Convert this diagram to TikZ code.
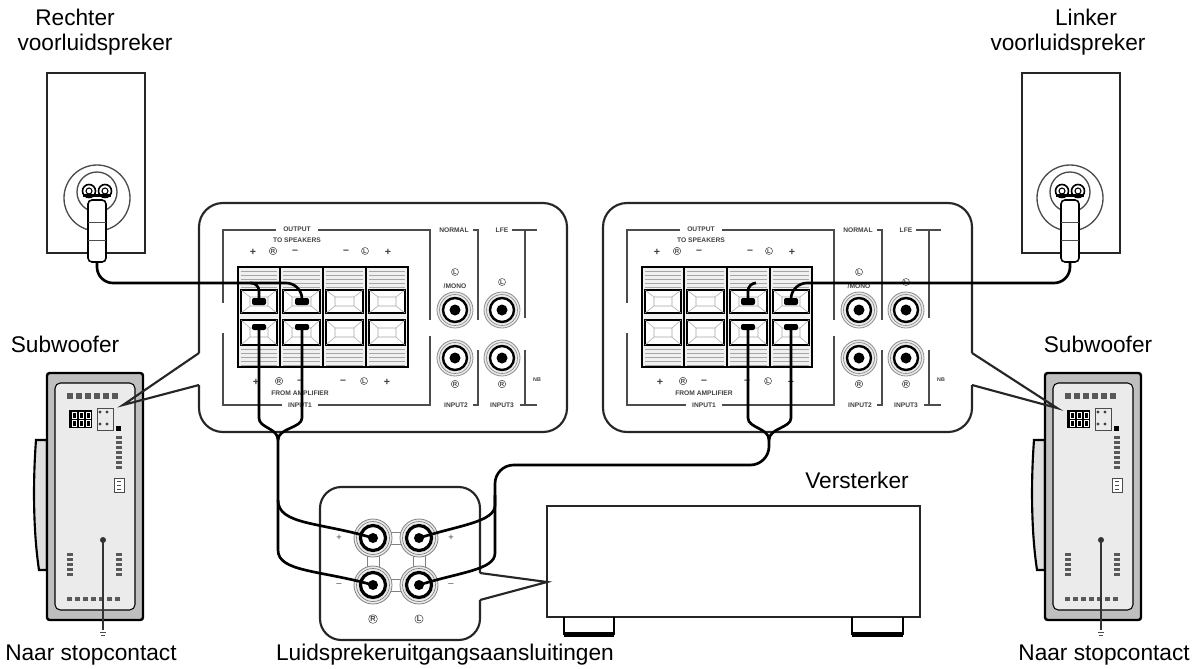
\documentclass[tikz,border=0pt]{standalone}
\usepackage{fontspec}
\setmainfont{Liberation Sans}
\begin{document}
\begin{tikzpicture}[x=0.75pt,y=-0.75pt,
  line/.style={line width=1.6pt,black!85},
  thin/.style={line width=0.6pt,black!70},
  frame/.style={line width=1.4pt,black!70},
  cable/.style={line width=2pt,black},
  lab/.style={font=\fontsize{17}{17}\selectfont,inner sep=0pt},
  tiny/.style={font=\fontsize{5}{5}\selectfont\bfseries,text=black!75,inner sep=0.5pt},
  sym/.style={font=\fontsize{8}{8}\selectfont\bfseries,text=black!75,inner sep=0pt},
  circ/.style={circle,draw=black!70,line width=0.4pt,inner sep=0.4pt,font=\fontsize{4.5}{4.5}\selectfont\bfseries,text=black!75},
  plug/.style={fill=black,rounded corners=1.5pt}]
\useasboundingbox (0,0) rectangle (1193,668);

% ---------- labels ----------
\node[lab] (t1) at (75,17) {Rechter};
\node[lab] (t2) at (95,45) {voorluidspreker};
\node[lab] (t3) at (1086,17) {Linker};
\node[lab] (t4) at (1068,45) {voorluidspreker};
\node[lab] (t5) at (65,344) {Subwoofer};
\node[lab] (t6) at (1098,344) {Subwoofer};
\node[lab,anchor=west] (t7) at (5,655) {Naar stopcontact};
\node[lab,anchor=east] (t8) at (1190,655) {Naar stopcontact};
\node[lab] (t9) at (445,655) {Luidsprekeruitgangsaansluitingen};
\node[lab] (t10) at (857,480) {Versterker};

% ---------- speakers ----------
\foreach \sx/\cx in {47/97,1022/1070}{
  \draw[line] (\sx,73) rectangle (\sx+98,253);
  \draw[thin,line width=1pt] (\cx,198) circle (33);
  \draw[thin,line width=1pt] (\cx,192) circle (20);
  \draw[black,fill=white,rounded corners=3pt,line width=1.2pt] (\cx-9,200) rectangle (\cx+9,262);
  \draw[thin] (\cx-9,222) -- (\cx+9,222) (\cx-9,240)--(\cx+9,240);
  \draw[line width=1.2pt,fill=white] (\cx-8,191) circle (6.5) (\cx+8,191) circle (6.5);
  \draw[line width=0.8pt] (\cx-8,191) circle (3) (\cx+8,191) circle (3);
  \fill (\cx-14,194) rectangle (\cx+14,197);
}

% ---------- subwoofers ----------
\foreach \bx in {47,1045}{
 \begin{scope}[shift={(\bx,0)}]
  \draw[line width=1.6pt,fill=black!12] (-11,440) .. controls (-14,480) and (-14,530) .. (-8,570) -- (0,570) -- (0,440) -- cycle;
  \draw[line width=1.8pt,fill=black!25,rounded corners=2pt] (0,373) rectangle (96,620);
  \draw[line width=0.8pt,fill=black!8,rounded corners=4pt] (8,383) rectangle (88,610);
  \foreach \i in {0,...,5} \fill[black!65] (20+\i*9,393) rectangle (26+\i*9,399);
  \foreach \i in {0,...,6} \fill[black!65] (20+\i*8,597) rectangle (25+\i*8,601);
  \fill[black] (22,410) rectangle (45,428);
  \foreach \i in {0,1,2} \draw[white,line width=0.5pt] (25+\i*7,412) rectangle (29+\i*7,418) (25+\i*7,420) rectangle (29+\i*7,426);
  \draw[thin] (50,408) rectangle (66,430);
  \fill[black!75] (53,412) circle (1.6) (60,412) circle (1.6) (53,424) circle (1.6) (60,424) circle (1.6);
  \fill[black] (69,426) rectangle (74,431);
  \foreach \i in {0,...,6} \fill[black!65] (69,436+\i*5) rectangle (75,439+\i*5);
  \draw[thin,fill=white] (67,478) rectangle (77,492);
  \draw[thin] (70,481) -- (74,481) (70,485)--(74,485) (70,489)--(74,489);
  \foreach \i in {0,...,4}{ \fill[black!65] (20,553+\i*5) rectangle (26,556+\i*5); \fill[black!65] (69,553+\i*5) rectangle (75,556+\i*5);}
  \fill[black!80] (56,540) circle (3);
  \draw[line width=1.6pt,black!80] (56,540) -- (56,630);
  \draw[thin] (53,632) -- (59,632) (54,635)--(58,635);
 \end{scope}
}

% ---------- panels ----------
\draw[line,rounded corners=18pt] (199,353) -- (199,203) -- (567,203) -- (567,432) -- (199,432) -- (199,385);
\draw[line] (199,353) -- (123,405) -- (199,385);
\draw[line,rounded corners=18pt] (972,385) -- (972,432) -- (603,432) -- (603,203) -- (972,203) -- (972,353);
\draw[line] (972,353) -- (1057,408) -- (972,385);

\foreach \o in {0,404}{
 \begin{scope}[shift={(\o,0)}]
  \draw[frame] (223,303) -- (223,230) -- (276,230);
  \draw[frame] (318,230) -- (430,230) -- (430,320);
  \draw[frame] (223,333) -- (223,405) -- (282,405);
  \draw[frame] (318,405) -- (430,405) -- (430,336);
  \node[tiny] at (297,229) {OUTPUT};
  \node[tiny] at (297,240) {TO SPEAKERS};
  \node[tiny] at (300,393) {FROM AMPLIFIER};
  \node[tiny] at (300,405) {INPUT1};
  \node[tiny] at (454,230) {NORMAL};
  \draw[frame] (473,230) -- (478,230) -- (478,320);
  \draw[frame] (478,350) -- (478,405) -- (473,405);
  \node[tiny] at (502,230) {LFE};
  \draw[frame] (512,230) -- (537,230);
  \draw[frame] (525,230) -- (525,318);
  \node[tiny] at (456,405) {INPUT2};
  \node[tiny] at (502,405) {INPUT3};
  \draw[frame] (520,405) -- (537,405);
  \draw[frame] (525,350) -- (525,405);
  \node[tiny,font=\fontsize{4}{4}\selectfont\bfseries] at (537,380) {NB};
  \node[sym] at (253,252) {+}; \node[circ] at (273,251) {R}; \node[sym] at (295,252) {–};
  \node[sym] at (346,252) {–}; \node[circ] at (365,251) {L}; \node[sym] at (388,252) {+};
  \node[sym] at (256,382) {+}; \node[circ] at (279,381) {R}; \node[sym] at (300,382) {–};
  \node[sym] at (343,382) {–}; \node[circ] at (364,381) {L}; \node[sym] at (387,382) {+};
  \draw[line width=1pt,fill=black!6] (238,267) rectangle (408,367);
  \foreach \a/\b in {238/280,280/323,323/366,366/408}{
    \foreach \k in {0,...,4}{ \draw[black!35,line width=0.5pt] (\a+3,271+\k*4) -- (\b-3,271+\k*4);
                             \draw[black!35,line width=0.5pt] (\a+3,349+\k*4) -- (\b-3,349+\k*4);}
    \draw[line width=0.9pt,fill=white] (\a+3,290) rectangle (\b-3,313);
    \draw[line width=0.9pt,fill=white] (\a+3,320) rectangle (\b-3,345);
    \draw[black!35,line width=0.4pt] (\a+3,290) -- (\a+12,297) -- (\b-12,297) -- (\b-3,290) (\a+3,313)--(\a+12,306)--(\b-12,306)--(\b-3,313) (\a+12,297)--(\a+12,306) (\b-12,297)--(\b-12,306);
    \draw[black!35,line width=0.4pt] (\a+3,320) -- (\a+12,328) -- (\b-12,328) -- (\b-3,320) (\a+3,345)--(\a+12,337)--(\b-12,337)--(\b-3,345) (\a+12,328)--(\a+12,337) (\b-12,328)--(\b-12,337);
  }
  \foreach \x in {280,323,366} \draw[line width=2.2pt] (\x,267) -- (\x,367);
  \foreach \x/\y in {455/310,502/310,455/358,502/358}{
    \draw[black!45,fill=black!8,line width=0.6pt] (\x,\y) circle (18);
    \draw[black!45,line width=0.5pt] (\x,\y) circle (15.5);
    \draw[line width=1.8pt,fill=white] (\x,\y) circle (12);
    \fill (\x,\y) circle (5.5);
  }
  \node[circ] at (455,272) {L};
  \node[tiny] at (455,286) {/MONO};
  \node[circ] at (502,282) {L};
  \node[circ] at (455,384) {R};
  \node[circ] at (502,384) {R};
 \end{scope}
}

\foreach \x in {259,302,748,791}{
  \fill[plug] (\x-7,298) rectangle (\x+7,305);
  \fill[plug] (\x-7,324) rectangle (\x+7,330);
}

% ---------- amplifier ----------
\draw[line] (547,506) rectangle (920,617);
\draw[line width=1.4pt] (564,617) -- (564,634) -- (614,634) -- (614,617);
\fill (564,632) rectangle (614,637);
\draw[line width=1.4pt] (852,617) -- (852,634) -- (903,634) -- (903,617);
\fill (852,632) rectangle (903,637);

% ---------- output terminal box ----------
\draw[line,rounded corners=16pt] (480,573) -- (480,487) -- (320,487) -- (320,640) -- (480,640) -- (480,600);
\draw[line] (480,573) -- (547,582) -- (480,600);
\draw[black!50,line width=0.6pt] (385,532) -- (407,532) (385,544) -- (407,544) (385,579)--(407,579) (385,591)--(407,591)
      (367,550) -- (367,573) (379,550)--(379,573) (413,550)--(413,573) (425,550)--(425,573);
\foreach \x/\y in {373/538,419/538,373/585,419/585}{
  \draw[black!50,fill=black!8,line width=0.6pt] (\x,\y) circle (19);
  \draw[black!50,line width=0.5pt] (\x,\y) circle (16.5);
  \draw[line width=2.4pt,fill=white] (\x,\y) circle (12.5);
  \fill (\x,\y) circle (5);
}
\node[sym,font=\fontsize{7}{7}\selectfont] at (339,538) {+};
\node[sym,font=\fontsize{7}{7}\selectfont] at (451,538) {+};
\node[sym,font=\fontsize{7}{7}\selectfont] at (339,585) {–};
\node[sym,font=\fontsize{7}{7}\selectfont] at (451,585) {–};
\node[circ,font=\fontsize{5.5}{5.5}\selectfont\bfseries] at (373,619) {R};
\node[circ,font=\fontsize{5.5}{5.5}\selectfont\bfseries] at (419,619) {L};

% ---------- cables ----------
\coordinate (ls) at (97,262);
\coordinate (rs) at (1070,262);
\draw[cable,rounded corners=12pt] (ls) -- (97,283) -- (302,283) -- (302,298);
\draw[cable,rounded corners=6pt] (250,283) -- (259,283) -- (259,298);
\draw[cable,rounded corners=12pt] (rs) -- (1070,283) -- (791,283) -- (791,298);
\draw[cable,rounded corners=6pt] (756,283) -- (748,283) -- (748,298);

\draw[cable] (259,330) -- (259,418) .. controls (259,428) and (278,428) .. (278,440);
\draw[cable] (302,330) -- (302,418) .. controls (302,428) and (278,428) .. (278,440);
\draw[cable] (278,440) -- (278,500) .. controls (278,525) and (320,522) .. (373,538);
\draw[cable] (278,500) -- (278,550) .. controls (278,572) and (320,570) .. (373,585);

\draw[cable] (748,330) -- (748,418) .. controls (748,428) and (769,428) .. (769,440);
\draw[cable] (791,330) -- (791,418) .. controls (791,428) and (769,428) .. (769,440);
\draw[cable,rounded corners=14pt] (769,440) -- (769,465) -- (495,465) -- (495,505);
\draw[cable] (495,495) -- (495,505) .. controls (495,522) and (460,525) .. (419,538);
\draw[cable] (495,505) -- (495,553) .. controls (495,570) and (460,572) .. (419,585);
\end{tikzpicture}
\end{document}
